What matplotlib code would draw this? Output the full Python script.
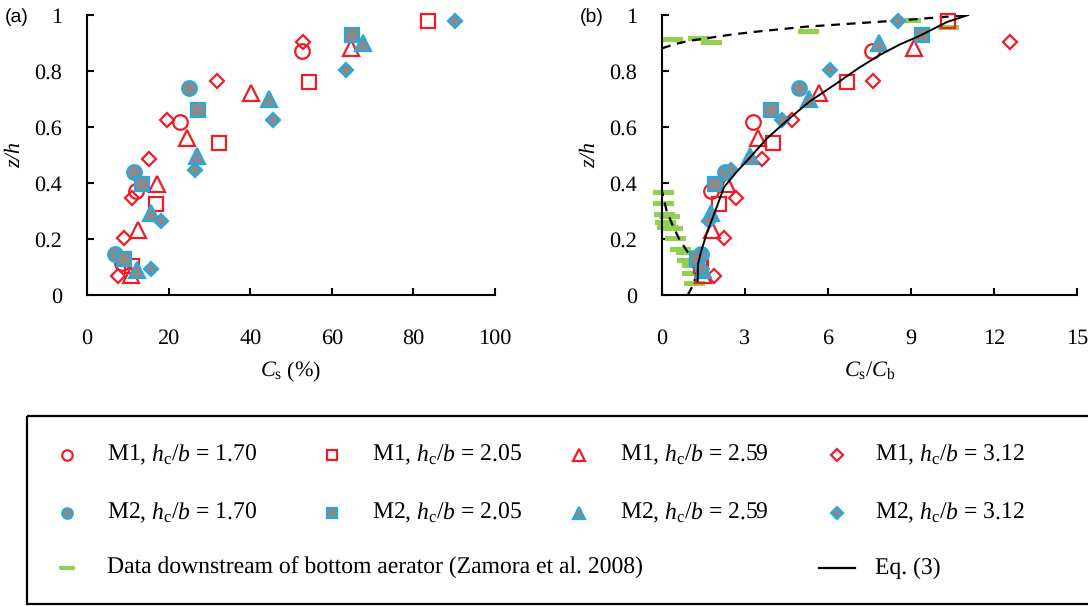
import matplotlib
matplotlib.use("Agg")
import matplotlib.pyplot as plt
from matplotlib.patches import Rectangle

plt.rcParams['font.family'] = 'Liberation Serif'
plt.rcParams['mathtext.fontset'] = 'custom'
plt.rcParams['mathtext.rm'] = 'Liberation Serif'
plt.rcParams['mathtext.it'] = 'Liberation Serif:italic'
plt.rcParams['text.hinting'] = 'no_hinting'

# series: z/h, Cs (%) for panel a, Cs/Cb for panel b
m1_170_z = [0.87, 0.618, 0.37, 0.115]
m1_170_cs = [52.6, 22.8, 12.0, 8.5]
m1_170_r = [7.58, 3.28, 1.76, 1.35]

m1_205_z = [0.98, 0.761, 0.543, 0.325, 0.105]
m1_205_cs = [83.7, 54.5, 32.4, 16.8, 11.0]
m1_205_r = [10.32, 6.70, 4.00, 2.07, 1.40]

m1_259_z = [0.883, 0.72, 0.562, 0.398, 0.232, 0.072]
m1_259_cs = [64.7, 40.2, 24.4, 17.1, 12.6, 10.7]
m1_259_r = [9.12, 5.67, 3.46, 2.36, 1.82, 1.49]

m1_312_z = [0.905, 0.763, 0.625, 0.485, 0.345, 0.202, 0.067]
m1_312_cs = [52.9, 31.8, 19.5, 15.2, 11.1, 9.1, 7.7]
m1_312_r = [12.58, 7.61, 4.71, 3.63, 2.67, 2.24, 1.89]

m2_170_z = [0.738, 0.441, 0.148]
m2_170_cs = [25.1, 11.4, 6.9]
m2_170_r = [4.96, 2.28, 1.41]

m2_205_z = [0.928, 0.662, 0.398, 0.128]
m2_205_cs = [64.9, 27.1, 13.4, 9.1]
m2_205_r = [9.39, 3.93, 1.92, 1.25]

m2_259_z = [0.899, 0.699, 0.498, 0.292, 0.09]
m2_259_cs = [67.6, 44.5, 26.9, 15.6, 12.2]
m2_259_r = [7.85, 5.32, 3.18, 1.77, 1.49]

m2_312_z = [0.98, 0.803, 0.625, 0.445, 0.264, 0.092]
m2_312_cs = [90.2, 63.6, 45.5, 26.5, 18.1, 15.6]
m2_312_r = [8.52, 6.07, 4.35, 2.49, 1.71, 1.43]

# Zamora et al. 2008
zam_r = [0.35, 1.29, 1.77, 5.29, 8.96, 10.35,
         0.05, 0.05, 0.08, 0.25, 0.12, 0.17, 0.35, 0.47, 0.65, 0.85, 0.92, 1.10, 1.07, 1.17]
zam_z = [0.913, 0.917, 0.902, 0.943, 0.982, 0.958,
         0.367, 0.330, 0.289, 0.283, 0.262, 0.244, 0.241, 0.205, 0.166, 0.152, 0.124, 0.108, 0.08, 0.044]

# Eq. (3)
eq_r = [1.29, 1.30, 1.40, 1.49, 1.62, 1.77, 2.0, 2.24, 2.7, 3.17, 3.8, 4.6, 5.32, 6.3, 7.1, 7.85, 8.6, 9.3, 10.3, 11.07]
eq_z = [0.05, 0.11, 0.15, 0.18, 0.22, 0.26, 0.32, 0.385, 0.44, 0.49, 0.56, 0.63, 0.69, 0.755, 0.81, 0.856, 0.895, 0.925, 0.975, 1.0]

# dashed curves
lo_r = [0.93, 1.15, 1.25, 1.20, 0.95, 0.62, 0.38, 0.17, 0.0]
lo_z = [0.0, 0.04, 0.08, 0.115, 0.15, 0.2, 0.25, 0.3, 0.37]
up_r = [0, 0.5, 1.0, 1.55, 2.5, 3.36, 5.17, 6.97, 8.78, 11.07]
up_z = [0.881, 0.897, 0.908, 0.916, 0.93, 0.94, 0.958, 0.97, 0.982, 1.0]

yticks = [0, 0.2, 0.4, 0.6, 0.8, 1]
ytick_labels = ['0', '0.2', '0.4', '0.6', '0.8', '1']
xticks_a = [0, 20, 40, 60, 80, 100]
xticks_b = [0, 3, 6, 9, 12, 15]

RED = '#ee1c25'
BLUE = '#29a8e0'
GREY = '#8a8a8a'
GREEN = '#92d050'

bar = [(-1, -0.16), (1, -0.16), (1, 0.16), (-1, 0.16), (-1, -0.16)]

m1 = dict(ls='none', mfc='none', mec=RED, mew=1.6)
m2 = dict(ls='none', mfc=GREY, mec=BLUE, mew=1.6)

fig = plt.figure(figsize=(10.88, 6.06), dpi=100)
ax_a = fig.add_axes([87/1088, 1-295/606, 408/1088, 280/606])
ax_b = fig.add_axes([662/1088, 1-295/606, 415/1088, 280/606])

series = [
    (m1_170_cs, m1_170_r, m1_170_z, 'o', 10.5, m1),
    (m1_205_cs, m1_205_r, m1_205_z, 's', 10, m1),
    (m1_259_cs, m1_259_r, m1_259_z, '^', 11, m1),
    (m1_312_cs, m1_312_r, m1_312_z, 'D', 7.5, m1),
    (m2_170_cs, m2_170_r, m2_170_z, 'o', 10.5, m2),
    (m2_205_cs, m2_205_r, m2_205_z, 's', 10, m2),
    (m2_259_cs, m2_259_r, m2_259_z, '^', 11, m2),
    (m2_312_cs, m2_312_r, m2_312_z, 'D', 7.5, m2),
]

ax_b.plot(zam_r, zam_z, ls='none', marker=bar, ms=14, mfc=GREEN, mec=GREEN, mew=0.8, clip_on=False, zorder=2)
ax_b.plot(lo_r, lo_z, color='black', lw=1.6, ls=(0, (4, 3)), zorder=3)
ax_b.plot(up_r, up_z, color='black', lw=1.6, ls=(0, (4, 3)), zorder=3)

for cs, r, z, mk, ms, st in series:
    ax_a.plot(cs, z, marker=mk, ms=ms, clip_on=False, zorder=4, **st)
    ax_b.plot(r, z, marker=mk, ms=ms, clip_on=False, zorder=4, **st)

ax_b.plot(eq_r, eq_z, color='black', lw=1.4, zorder=5)

for ax, xt, xlab in [(ax_a, xticks_a, r'$C_\mathrm{s}$ (%)'), (ax_b, xticks_b, r'$C_\mathrm{s}/C_\mathrm{b}$')]:
    ax.set_xlim(xt[0], xt[-1])
    ax.set_ylim(0, 1)
    ax.set_xticks(xt)
    ax.set_xticklabels([str(v) for v in xt])
    ax.set_yticks(yticks)
    ax.set_yticklabels(ytick_labels)
    for s in ['top', 'right']:
        ax.spines[s].set_visible(False)
    for s in ['left', 'bottom']:
        ax.spines[s].set_linewidth(1.5)
    ax.tick_params(direction='in', length=5, width=1.5, labelsize=16)
    ax.tick_params(axis='x', pad=24)
    ax.tick_params(axis='y', pad=18)
    ax.set_xlabel(xlab, fontsize=16, labelpad=8)
    ax.set_ylabel('z/h', fontsize=16, style='italic', labelpad=7)

fig.text(5/1088, 1-17/606, '(a)', family='Liberation Sans', fontsize=14, va='center', ha='left')
fig.text(580/1088, 1-17/606, '(b)', family='Liberation Sans', fontsize=14, va='center', ha='left')

# legend box drawn in pixel coordinates
lax = fig.add_axes([0, 0, 1, 1], zorder=-1)
lax.set_xlim(0, 1088)
lax.set_ylim(606, 0)
lax.axis('off')
lax.add_patch(Rectangle((27, 416), 1080, 188, fill=False, ec='black', lw=1.6, clip_on=False))

rows = [455, 513, 568]
mcols = [67, 332, 579, 837]
tcols = [107, 372, 620, 875]
vals = ['1.70', '2.05', '2.59', '3.12']
marks = [('o', 7.5), ('s', 7.5), ('^', 8), ('D', 6)]
for i, (mk, ms) in enumerate(marks):
    lab = '$h_\\mathrm{c}/b$ = ' + vals[i]
    lax.plot([mcols[i]], [rows[0]], marker=mk, ms=ms, **m1)
    lax.text(tcols[i], rows[0], 'M1, ' + lab, fontsize=17, va='center')
    lax.plot([mcols[i]], [rows[1]], marker=mk, ms=ms, **m2)
    lax.text(tcols[i], rows[1], 'M2, ' + lab, fontsize=17, va='center')
lax.plot([mcols[0]], [rows[2]], ls='none', marker=bar, ms=10, mfc='white', mec=GREEN, mew=1.5)
lax.text(tcols[0], rows[2], 'Data downstream of bottom aerator (Zamora et al. 2008)', fontsize=17, va='center')
lax.plot([mcols[3] - 18, mcols[3] + 18], [rows[2], rows[2]], color='black', lw=1.6)
lax.text(tcols[3], rows[2], 'Eq. (3)', fontsize=17, va='center')

fig.savefig('out.png', dpi=100)
